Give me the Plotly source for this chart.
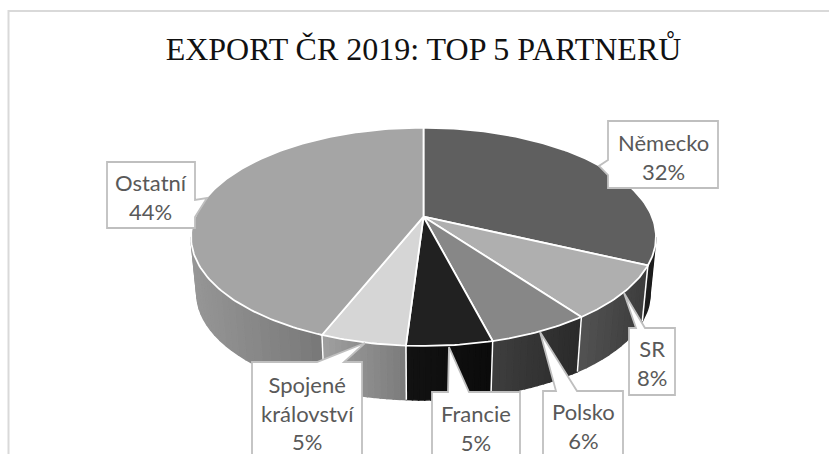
import numpy as np
import plotly.graph_objects as go

title = "EXPORT ČR 2019: TOP 5 PARTNERŮ"
categories = ["Německo", "SR", "Polsko", "Francie", "Spojené království", "Ostatní"]
values = [32, 8, 6, 5, 5, 44]

top_colors = ["#5f5f5f", "#afafaf", "#878787", "#212121", "#d6d6d6", "#a5a5a5"]
wall_left = ["#262626", "#525252", "#3e3e3e", "#121212", "#a0a0a0", "#969696"]
wall_right = ["#101010", "#3c3c3c", "#2a2a2a", "#0b0b0b", "#7a7a7a", "#787878"]

# Projection of the tilted disc
CX, CY = 423.5, 216.7
KX, KY, PERSP = 228.5, 105.4, 0.1846
SCALE_LOW, DROP = 0.975, 57.2


def project(theta, low=False):
    t = np.radians(theta)
    den = 1 + PERSP * np.cos(t)
    x, y = KX * np.sin(t) / den, -KY * np.cos(t) / den
    if low:
        return CX + SCALE_LOW * x, CY + DROP + SCALE_LOW * y
    return CX + x, CY + y


def hex2rgb(c):
    return np.array([int(c[i:i + 2], 16) for i in (1, 3, 5)], dtype=float)


def mix(a, b, t):
    r = hex2rgb(a) * (1 - t) + hex2rgb(b) * t
    return "rgb(%d,%d,%d)" % tuple(r.round())


fig = go.Figure()
edges = np.cumsum([0] + values) / sum(values) * 360
vis_a = np.degrees(np.arccos(-PERSP))
vis_b = 360 - vis_a

# side walls
for i in range(len(values)):
    a, b = max(edges[i], vis_a), min(edges[i + 1], vis_b)
    if b <= a:
        continue
    xa, xb = project(a)[0], project(b)[0]
    xmin, xmax = min(xa, xb), max(xa, xb)
    n = max(2, int((xmax - xmin) / 6))
    ts = np.linspace(a, b, n * 6 + 1)
    for j in range(n):
        seg = ts[j * 6: (j + 1) * 6 + 1]
        x_top, y_top = project(seg)
        x_low, y_low = project(seg[::-1], True)
        frac = (x_top.mean() - xmin) / (xmax - xmin)
        col = mix(wall_left[i], wall_right[i], frac)
        fig.add_trace(go.Scatter(x=np.r_[x_top, x_low, x_top[0]], y=np.r_[y_top, y_low, y_top[0]],
                                 mode="lines", fill="toself", fillcolor=col,
                                 line=dict(color=col, width=1.5),
                                 hoverinfo="skip", showlegend=False))

# wall separators
for e in edges[1:-1]:
    if vis_a < e < vis_b:
        x1, y1 = project(e)
        x2, y2 = project(e, True)
        fig.add_trace(go.Scatter(x=[x1, x2], y=[y1, y2], mode="lines",
                                 line=dict(color="white", width=1.5),
                                 hoverinfo="skip", showlegend=False))

# top face
for i, cat in enumerate(categories):
    th = np.arange(edges[i], edges[i + 1] + 0.5, 1.0)
    th[-1] = edges[i + 1]
    x, y = project(th)
    fig.add_trace(go.Scatter(x=np.r_[CX, x, CX], y=np.r_[CY, y, CY],
                             mode="lines", fill="toself", fillcolor=top_colors[i],
                             line=dict(color="white", width=1.8),
                             name=cat, showlegend=False, hoverinfo="name"))

# callouts: box outline with its pointer
LINE = "#bfbfbf"
callouts = [
    "M608,121 L718,121 L718,188 L608,188 L608,175 L599,166 L608,160 Z",
    "M629,328 L636,328 L624,293 L645,328 L675,328 L675,395 L629,395 Z",
    "M543,391 L556,391 L540,332 L577,391 L623,391 L623,462 L543,462 Z",
    "M432,392 L448,392 L449,347 L469,392 L520,392 L520,462 L432,462 Z",
    "M252,362 L317,362 L365,343 L344,362 L362,362 L362,462 L252,462 Z",
    "M107,162 L195,162 L195,200 L207,198 L195,217 L195,228 L107,228 Z",
]
shapes = [dict(type="path", path=p, xref="x", yref="y", fillcolor="white",
               line=dict(color=LINE, width=1.8), layer="above") for p in callouts]
# chart-area border (top and left only reach the crop)
shapes.append(dict(type="line", xref="x", yref="y", x0=8.5, x1=829, y0=11, y1=11,
                   line=dict(color="#d9d9d9", width=2), layer="below"))
shapes.append(dict(type="line", xref="x", yref="y", x0=8.5, x1=8.5, y0=10, y1=454,
                   line=dict(color="#d9d9d9", width=2), layer="below"))

label_pos = [(663, 157), (652, 362.5), (583, 425.5), (476, 427.5), (307, 412.5), (151, 197)]
annotations = []
for cat, v, (lx, ly) in zip(categories, values, label_pos):
    annotations.append(dict(x=lx, y=ly, xref="x", yref="y", showarrow=False,
                            xanchor="center", yanchor="middle", align="center",
                            text=cat.replace(" ", "<br>") + f"<br>{v}%",
                            font=dict(family="Lato", size=22, color="#595959")))

fig.update_layout(
    width=829, height=454, autosize=False,
    margin=dict(l=0, r=0, t=0, b=0),
    paper_bgcolor="white", plot_bgcolor="white",
    xaxis=dict(range=[0, 829], visible=False, fixedrange=True),
    yaxis=dict(range=[454, 0], visible=False, fixedrange=True),
    shapes=shapes, annotations=annotations,
    title=dict(text=title, x=423.5 / 829, xanchor="center", y=1 - 49 / 454, yanchor="middle",
               font=dict(family="Liberation Serif", size=32, color="#111111")),
)
fig.write_html("out.html", config=dict(displayModeBar=False),
               post_script="document.body.style.margin='0';document.documentElement.style.overflow='hidden';")
